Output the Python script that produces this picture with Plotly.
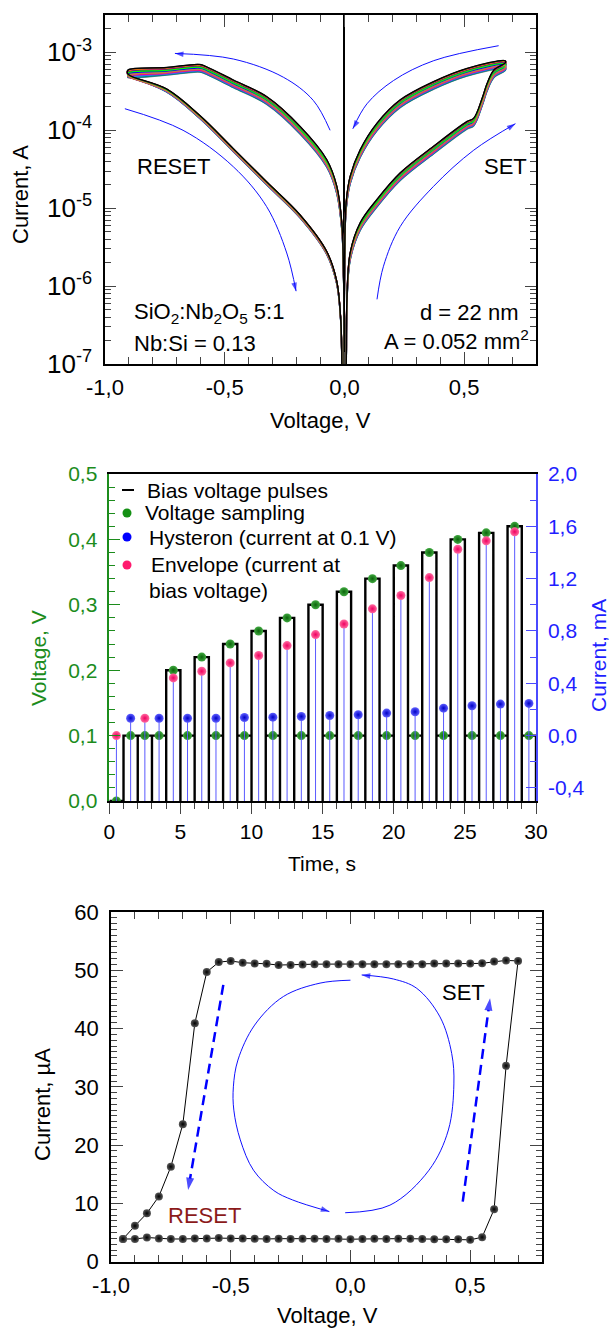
import plotly.graph_objects as go

W, H = 611, 1332
FONT = "Liberation Sans, Arial, Helvetica, sans-serif"
GREEN = "#1c8c1c"
BLUE_TXT = "#1f1fff"
BLUE_AX = "#4a4aff"
PINK = "#ff1a6e"
ARROW_BLUE = "#1010ff"

# ---------------- Panel 1: I-V cycles (log10 |I| in A vs V) ----------------
set_lo_v = [0.006, 0.008, 0.010, 0.024, 0.066, 0.136, 0.233, 0.372, 0.512, 0.540, 0.575, 0.596, 0.624, 0.672]
set_lo_logi = [-7.6, -6.9, -6.26, -5.62, -5.235, -4.936, -4.596, -4.255, -3.936, -3.894, -3.639, -3.447, -3.276, -3.183]
set_up_v = [0.672, 0.512, 0.372, 0.233, 0.136, 0.066, 0.024, 0.007, 0.001, 0.000]
set_up_logi = [-3.157, -3.255, -3.425, -3.659, -3.958, -4.298, -4.638, -4.98, -5.62, -7.6]
reset_up_v = [0.000, -0.004, -0.011, -0.032, -0.074, -0.185, -0.325, -0.464, -0.576, -0.604, -0.743, -0.904]
reset_up_logi = [-7.6, -5.83, -5.235, -4.766, -4.425, -4.0, -3.617, -3.404, -3.234, -3.204, -3.243, -3.276]
reset_lo_v = [-0.904, -0.743, -0.604, -0.464, -0.325, -0.185, -0.074, -0.032, -0.015, -0.011, -0.010]
reset_lo_logi = [-3.298, -3.489, -3.83, -4.255, -4.681, -5.107, -5.575, -5.958, -6.47, -7.0, -7.6]

# estimated spread of the individual cycles inside each bundle (decades)
branch_spread = [0.05, 0.05, 0.05, 0.02]
cycle_colors = ["#808080", "#ff0000", "#00c0c0", "#ff00ff", "#808000", "#000080", "#e0e000",
                "#00a000", "#8000ff", "#0000ff", "#800000", "#008080", "#ff8000", "#4060ff",
                "#800080", "#ff0080", "#00ff00", "#c08040", "#404040", "#000000"]
cycle_dev = [-1.0, 0.75, -0.8, 0.55, -0.6, 0.35, -0.4, 0.15, -0.2, 0.0,
             0.85, -0.9, 0.65, -0.7, 0.45, -0.5, 0.25, -0.3, 0.95, 1.0]

# guide arrows (V, log10 I)
arr1_v = [-0.06, -0.13, -0.255, -0.464, -0.708]
arr1_logi = [-4.0, -3.617, -3.319, -3.085, -3.013]
arr2_v = [-0.917, -0.674, -0.464, -0.325, -0.241, -0.202]
arr2_logi = [-3.723, -4.0, -4.468, -4.98, -5.575, -6.065]
arr3_v = [0.644, 0.373, 0.205, 0.094, 0.035]
arr3_logi = [-2.914, -3.106, -3.361, -3.66, -3.98]
arr4_v = [0.136, 0.163, 0.233, 0.372, 0.54, 0.714]
arr4_logi = [-6.17, -5.745, -5.235, -4.72, -4.255, -3.915]

p1_xticks = [-1.0, -0.5, 0.0, 0.5]
p1_xticktext = ["-1,0", "-0,5", "0,0", "0,5"]
p1_yticks = [1e-7, 1e-6, 1e-5, 1e-4, 1e-3]
p1_yticktext = ["10<sup>-7</sup>", "10<sup>-6</sup>", "10<sup>-5</sup>", "10<sup>-4</sup>", "10<sup>-3</sup>"]
p1_yminor = [k * 10.0 ** e for e in range(-7, -2) for k in range(2, 10)]

# ---------------- Panel 2: pulse protocol ----------------
bias_t = [0.5, 2.5, 4.5, 6.5, 8.5, 10.5, 12.5, 14.5, 16.5, 18.5, 20.5, 22.5, 24.5, 26.5, 28.5]
bias_v = [0.00, 0.10, 0.20, 0.22, 0.24, 0.26, 0.28, 0.30, 0.32, 0.34, 0.36, 0.38, 0.40, 0.41, 0.42]
envelope_ma = [0.00, 0.133, 0.441, 0.492, 0.556, 0.612, 0.688, 0.772, 0.853, 0.969, 1.071, 1.208, 1.425, 1.489, 1.558]
read_t = [1.5, 3.5, 5.5, 7.5, 9.5, 11.5, 13.5, 15.5, 17.5, 19.5, 21.5, 23.5, 25.5, 27.5, 29.5]
read_v = [0.1] * 15
hysteron_ma = [0.133, 0.133, 0.133, 0.133, 0.138, 0.141, 0.146, 0.154, 0.159, 0.172, 0.182, 0.21, 0.228, 0.241, 0.246]
pulse_width = 1.0
p2_rticks = [-0.4, 0.0, 0.4, 0.8, 1.2, 1.6, 2.0]
p2_rticktext = ["-0,4", "0,0", "0,4", "0,8", "1,2", "1,6", "2,0"]

# ---------------- Panel 3: hysteron loop ----------------
hrs_v = [-0.95, -0.90, -0.85, -0.80, -0.75, -0.70, -0.65, -0.60, -0.55, -0.50, -0.45, -0.40, -0.35, -0.30, -0.25,
         -0.20, -0.15, -0.10, -0.05, 0.00, 0.05, 0.10, 0.15, 0.20, 0.25, 0.30, 0.35, 0.40, 0.45, 0.50]
hrs_i = [3.9, 3.9, 4.15, 4.0, 3.9, 3.9, 4.0, 4.0, 4.05, 4.0, 4.0, 3.95, 3.9, 3.95, 3.9,
         3.95, 3.95, 3.9, 3.95, 3.85, 3.9, 3.95, 3.9, 3.95, 3.95, 3.9, 3.85, 3.85, 3.85, 3.75]
set_v = [0.55, 0.60, 0.65, 0.70]
set_i = [4.2, 9.0, 33.6, 51.6]
lrs_v = [0.65, 0.60, 0.55, 0.50, 0.45, 0.40, 0.35, 0.30, 0.25, 0.20, 0.15, 0.10, 0.05, 0.00, -0.05,
         -0.10, -0.15, -0.20, -0.25, -0.30, -0.35, -0.40, -0.45, -0.50, -0.55, -0.60]
lrs_i = [51.7, 51.5, 51.2, 51.15, 51.15, 51.15, 51.15, 51.05, 51.05, 51.05, 51.05, 51.05, 51.05, 51.05, 51.05,
         51.05, 51.05, 51.0, 50.9, 50.9, 51.1, 51.15, 51.3, 51.6, 51.4, 49.7]
reset_v = [-0.65, -0.70, -0.75, -0.80, -0.85, -0.90, -0.95]
reset_i = [40.9, 23.6, 16.3, 11.2, 8.3, 6.15, 3.9]

loopA_v = [-0.022, 0.165, 0.328, 0.409, 0.432, 0.423, 0.374, 0.277, 0.18, 0.047]
loopA_i = [8.4, 9.7, 15.7, 22.6, 30.5, 35.7, 42.0, 46.9, 48.5, 49.2]
loopB_v = [0.0, -0.127, -0.28, -0.40, -0.47, -0.489, -0.487, -0.46, -0.405, -0.32, -0.242, -0.088]
loopB_i = [48.3, 47.8, 45.5, 40.6, 34.6, 30.0, 26.0, 20.9, 15.7, 12.2, 10.6, 8.6]
dash_reset_v = [-0.531, -0.678]
dash_reset_i = [47.5, 12.3]
dash_set_v = [0.469, 0.583]
dash_set_i = [10.3, 45.2]

fig = go.Figure()

# ---- panel 1 traces ----
branches = [(set_lo_v, set_lo_logi), (set_up_v, set_up_logi), (reset_up_v, reset_up_logi), (reset_lo_v, reset_lo_logi)]
for c, dev in zip(cycle_colors, cycle_dev):
    xs, ys = [], []
    for (bv, bl), sp in zip(branches, branch_spread):
        xs += bv
        ys += [10 ** (l + dev * sp) for l in bl]
    fig.add_trace(go.Scatter(x=xs, y=ys, mode="lines", xaxis="x", yaxis="y",
                             line=dict(color=c, width=1.3, shape="spline", smoothing=1.0),
                             hoverinfo="skip", showlegend=False))


def arrow_trace(xv, yv, xa, ya, color, width, size, dash=None, spline=True):
    n = len(xv)
    return go.Scatter(x=xv, y=yv, mode="lines+markers", xaxis=xa, yaxis=ya,
                      line=dict(color=color, width=width, dash=dash,
                                shape="spline" if spline else "linear", smoothing=1.0),
                      marker=dict(symbol="arrow", size=[0] * (n - 1) + [size], color=color,
                                  angleref="previous", line=dict(width=0)),
                      hoverinfo="skip", showlegend=False, cliponaxis=False)


for av, al in [(arr1_v, arr1_logi), (arr2_v, arr2_logi), (arr3_v, arr3_logi), (arr4_v, arr4_logi)]:
    fig.add_trace(arrow_trace(av, [10 ** l for l in al], "x", "y", ARROW_BLUE, 1, 9))

# ---- panel 2 traces ----
order = []
for k in range(len(bias_t)):
    order.append((bias_t[k] - pulse_width / 2, bias_v[k]))
    order.append((read_t[k] - pulse_width / 2, read_v[k]))
px_, py_ = [], []
for s, lvl in order:
    px_ += [s, s, s + pulse_width, s + pulse_width]
    py_ += [0, lvl, lvl, 0]

r_min = -0.5
stem_x, stem_y = [], []
for t, v in list(zip(bias_t, envelope_ma)) + list(zip(read_t, hysteron_ma)):
    stem_x += [t, t, None]
    stem_y += [r_min, v, None]
fig.add_trace(go.Scatter(x=stem_x, y=stem_y, mode="lines", xaxis="x2", yaxis="y3",
                         line=dict(color="#5a5aff", width=1), hoverinfo="skip", showlegend=False))
fig.add_trace(go.Scatter(x=px_, y=py_, mode="lines", xaxis="x2", yaxis="y2",
                         line=dict(color="black", width=2.4), hoverinfo="skip", showlegend=False))
fig.add_trace(go.Scatter(x=read_t, y=hysteron_ma, mode="markers", xaxis="x2", yaxis="y3",
                         marker=dict(size=9, color="#6060ff", gradient=dict(type="radial", color="#0000c8"),
                                     line=dict(width=0)), showlegend=False))
fig.add_trace(go.Scatter(x=bias_t, y=envelope_ma, mode="markers", xaxis="x2", yaxis="y3",
                         marker=dict(size=9, color="#ff6aa0", gradient=dict(type="radial", color="#f00060"),
                                     line=dict(width=0)), showlegend=False))
fig.add_trace(go.Scatter(x=bias_t + read_t, y=bias_v + read_v, mode="markers", xaxis="x2", yaxis="y2",
                         marker=dict(size=9, color="#40a840", gradient=dict(type="radial", color="#0a650a"),
                                     line=dict(width=0)), showlegend=False))

# ---- panel 3 traces ----
fig.add_trace(arrow_trace(loopA_v, loopA_i, "x3", "y4", ARROW_BLUE, 1, 9))
fig.add_trace(arrow_trace(loopB_v, loopB_i, "x3", "y4", ARROW_BLUE, 1, 9))
fig.add_trace(arrow_trace(dash_reset_v, dash_reset_i, "x3", "y4", "#0000ff", 2.5, 13, dash="10px,6px", spline=False))
fig.add_trace(arrow_trace(dash_set_v, dash_set_i, "x3", "y4", "#0000ff", 2.5, 13, dash="10px,6px", spline=False))
loop_v = hrs_v + set_v + lrs_v + reset_v
loop_i = hrs_i + set_i + lrs_i + reset_i
fig.add_trace(go.Scatter(x=loop_v, y=loop_i, mode="lines+markers", xaxis="x3", yaxis="y4",
                         line=dict(color="black", width=1),
                         marker=dict(size=8, color="#585858", gradient=dict(type="radial", color="#000000"),
                                     line=dict(width=0)),
                         hoverinfo="skip", showlegend=False))


def px(x):
    return x / W


def py(y):
    return 1 - y / H


tickfont22 = dict(family=FONT, size=22, color="black")
common = dict(showgrid=False, automargin=False, showline=True, linewidth=1.5)

layout = dict(
    width=W, height=H, margin=dict(l=0, r=0, t=0, b=0), template="none",
    paper_bgcolor="white", plot_bgcolor="white", separators=",.",
    font=dict(family=FONT, size=22, color="black"), showlegend=False,
    xaxis=dict(domain=[px(105), px(536)], anchor="y", range=[-1.0, 0.8], linecolor="black",
               tickmode="array", tickvals=p1_xticks, ticktext=p1_xticktext, ticks="inside", ticklen=12,
               tickwidth=1.2, mirror="allticks", tickfont=tickfont22, ticklabelstandoff=3,
               minor=dict(dtick=0.1, ticks="inside", ticklen=7, tickwidth=1.2),
               zeroline=True, zerolinecolor="black", zerolinewidth=2, **common),
    yaxis=dict(domain=[py(364), py(15)], anchor="x", type="log", range=[-7, -2.52], linecolor="black",
               tickmode="array", tickvals=p1_yticks, ticktext=p1_yticktext, ticks="inside", ticklen=11,
               tickwidth=1.2, mirror="allticks", tickfont=dict(family=FONT, size=26, color="black"),
               ticklabelstandoff=6, zeroline=False,
               minor=dict(tickmode="array", tickvals=p1_yminor, ticks="inside", ticklen=6, tickwidth=1.2),
               **common),
    xaxis2=dict(domain=[px(109.3), px(536)], anchor="y2", range=[0, 30], linecolor="black",
                tickmode="linear", tick0=0, dtick=5, ticks="outside", ticklen=11, tickwidth=1.2,
                mirror=True, tickfont=dict(family=FONT, size=21, color="black"), zeroline=False,
                minor=dict(dtick=1, ticks="outside", ticklen=6, tickwidth=1.2), **common),
    yaxis2=dict(domain=[py(801), py(474)], anchor="x2", range=[0, 0.5], linecolor=GREEN,
                tickmode="linear", tick0=0, dtick=0.1, tickformat=".1f", ticks="inside", ticklen=11,
                tickwidth=1.2, tickcolor=GREEN, tickfont=dict(family=FONT, size=21, color=GREEN),
                ticklabelstandoff=6, zeroline=False,
                minor=dict(dtick=0.02, ticks="inside", ticklen=6, tickwidth=1.2, tickcolor=GREEN), **common),
    yaxis3=dict(overlaying="y2", anchor="x2", side="right", range=[r_min, 2.0], linecolor=BLUE_AX,
                tickmode="array", tickvals=p2_rticks, ticktext=p2_rticktext, ticks="inside", ticklen=10,
                tickwidth=1.2, tickcolor=BLUE_AX, tickfont=dict(family=FONT, size=21, color=BLUE_TXT),
                ticklabelstandoff=6, zeroline=False,
                minor=dict(dtick=0.2, ticks="inside", ticklen=6, tickwidth=1.2, tickcolor=BLUE_AX), **common),
    xaxis3=dict(domain=[px(111), px(542)], anchor="y4", range=[-1.0, 0.8], linecolor="black",
                tickmode="array", tickvals=p1_xticks, ticktext=p1_xticktext, ticks="inside", ticklen=12,
                tickwidth=1.2, mirror="allticks", tickfont=tickfont22, ticklabelstandoff=3, zeroline=False,
                minor=dict(dtick=0.1, ticks="inside", ticklen=7, tickwidth=1.2), **common),
    yaxis4=dict(domain=[py(1261.7), py(912)], anchor="x3", range=[0, 60], linecolor="black",
                tickmode="linear", tick0=0, dtick=10, ticks="inside", ticklen=12, tickwidth=1.2,
                mirror="allticks", tickfont=tickfont22, ticklabelstandoff=6, zeroline=False,
                minor=dict(dtick=1, ticks="inside", ticklen=6, tickwidth=1.2), **common),
)
fig.update_layout(**layout)


def ann(text, x, y, size=22, color="black", xanchor="center", angle=0):
    return dict(text=text, x=px(x), y=py(y), xref="paper", yref="paper", showarrow=False,
                xanchor=xanchor, yanchor="middle", textangle=angle,
                font=dict(family=FONT, size=size, color=color))


annotations = [
    # panel 1
    ann("RESET", 173, 167),
    ann("SET", 505, 166),
    ann("SiO<sub>2</sub>:Nb<sub>2</sub>O<sub>5</sub> 5:1", 132, 313, xanchor="left"),
    ann("Nb:Si = 0.13", 132, 343, xanchor="left"),
    ann("d = 22 nm", 520, 312, xanchor="right"),
    ann("A = 0.052 mm<sup>2</sup>", 531, 340, xanchor="right"),
    ann("Current, A", 21, 195, angle=-90),
    ann("Voltage, V", 320, 420),
    # panel 2
    ann("Bias voltage pulses", 145, 490, size=21, xanchor="left"),
    ann("Voltage sampling", 143, 513, size=21, xanchor="left"),
    ann("Hysteron (current at 0.1 V)", 147, 538, size=21, xanchor="left"),
    ann("Envelope (current at", 149, 564, size=21, xanchor="left"),
    ann("bias voltage)", 147, 590, size=21, xanchor="left"),
    ann("Voltage, V", 38, 658, size=21, color=GREEN, angle=-90),
    ann("Current, mA", 598, 656, size=21, color=BLUE_TXT, angle=-90),
    ann("Time, s", 322, 863, size=21),
    # panel 3
    ann("SET", 463, 992),
    ann("RESET", 205, 1215, color="#8b1a1a"),
    ann("Current, \u00b5A", 42, 1105, angle=-90),
    ann("Voltage, V", 327, 1315),
]


def circ(cx, cy, r, color):
    return dict(type="circle", xref="paper", yref="paper", x0=px(cx - r), x1=px(cx + r),
                y0=py(cy + r), y1=py(cy - r), fillcolor=color, line=dict(width=0))


shapes = [
    dict(type="line", xref="paper", yref="paper", x0=px(122), x1=px(134), y0=py(490), y1=py(490),
         line=dict(color="black", width=2)),
    circ(127, 513, 4.5, "#149014"),
    circ(127, 537, 4.5, "#0000ff"),
    circ(127, 565, 4.5, PINK),
]
fig.update_layout(annotations=annotations, shapes=shapes)

fig.write_html("out.html", config={"displayModeBar": False},
               post_script="document.body.style.margin='0';document.body.style.overflow='hidden';")
